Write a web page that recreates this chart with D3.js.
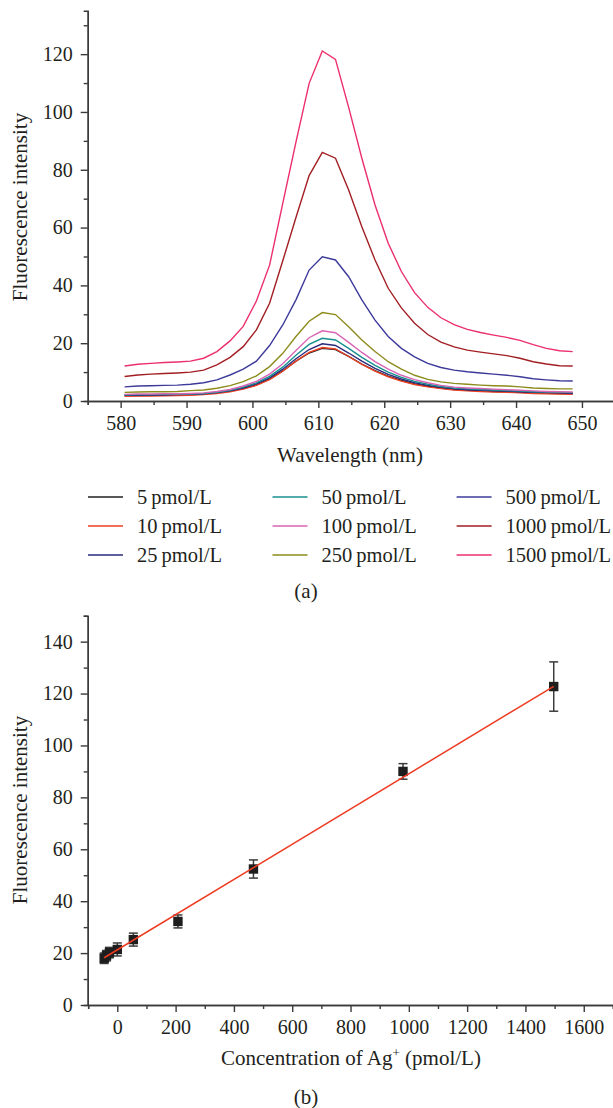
<!DOCTYPE html>
<html>
<head>
<meta charset="utf-8">
<script src="https://cdn.jsdelivr.net/npm/d3@7"></script>
<style>
  body { margin: 0; background: #fff; }
  .axis path, .axis line { stroke: #3a3a3a; stroke-width: 1.4; }
</style>
</head>
<body>
<svg width="613" height="1108"></svg>
<script>
let serif = "'Liberation Serif', 'Times New Roman', Times, serif"

// wavelengths of the spectra (nm)
let wavelengths = [580.6, 582.6, 584.6, 586.6, 588.6, 590.6, 592.6, 594.6, 596.6, 598.6,
  600.6, 602.6, 604.6, 606.6, 608.6, 610.6, 612.6, 614.6, 616.6, 618.6,
  620.6, 622.6, 624.6, 626.6, 628.6, 630.6, 632.6, 634.6, 636.6, 638.6,
  640.6, 642.6, 644.6, 646.6, 648.6]

let seriesNames = ['5', '10', '25', '50', '100', '250', '500', '1000', '1500']
let seriesColors = ['#231f20', '#ee4124', '#2b2a7c', '#17908f', '#d865b4', '#8d8b1c', '#3d3a9a', '#a21e23', '#ec2f6b']

let s5 = [1.9, 1.9, 2.0, 2.0, 2.1, 2.2, 2.4, 2.8, 3.4, 4.3, 5.6, 7.6, 10.4, 13.8, 16.6, 18.2, 17.8, 15.4, 12.8, 10.5,
  8.6, 7.1, 5.9, 5.1, 4.5, 4.0, 3.7, 3.5, 3.3, 3.2, 3.0, 2.8, 2.7, 2.6, 2.5]
let s10 = [1.6, 1.7, 1.7, 1.8, 1.9, 2.0, 2.2, 2.6, 3.2, 4.1, 5.4, 7.4, 10.3, 13.8, 16.8, 18.5, 18.0, 15.4, 12.7, 10.3,
  8.4, 6.9, 5.7, 4.9, 4.3, 3.8, 3.5, 3.3, 3.1, 3.0, 2.8, 2.6, 2.5, 2.4, 2.3]
let s25 = [2.0, 2.0, 2.1, 2.1, 2.2, 2.3, 2.5, 2.9, 3.5, 4.5, 5.9, 8.0, 11.0, 14.6, 17.8, 19.8, 19.2, 16.6, 13.8, 11.3,
  9.2, 7.6, 6.3, 5.4, 4.7, 4.2, 3.9, 3.7, 3.5, 3.4, 3.2, 3.0, 2.9, 2.8, 2.7]
let s50 = [2.1, 2.2, 2.2, 2.3, 2.3, 2.4, 2.6, 3.0, 3.7, 4.8, 6.3, 8.5, 11.7, 15.8, 19.6, 21.7, 21.1, 18.2, 15.1, 12.3,
  10.0, 8.2, 6.8, 5.8, 5.0, 4.5, 4.2, 4.0, 3.8, 3.6, 3.4, 3.2, 3.1, 3.0, 2.9]
let s100 = [2.3, 2.4, 2.4, 2.5, 2.5, 2.6, 2.8, 3.3, 4.0, 5.2, 6.8, 9.3, 12.9, 17.5, 21.9, 24.3, 23.6, 20.3, 16.8, 13.6,
  11.0, 8.9, 7.4, 6.3, 5.4, 4.8, 4.5, 4.3, 4.1, 3.9, 3.7, 3.5, 3.3, 3.2, 3.1]
let s250 = [3.0, 3.1, 3.2, 3.2, 3.3, 3.6, 3.8, 4.4, 5.3, 6.7, 8.7, 11.9, 16.5, 22.3, 27.6, 30.6, 29.9, 25.7, 21.1, 17.1,
  13.6, 11.0, 8.9, 7.5, 6.6, 6.1, 5.8, 5.5, 5.3, 5.2, 4.9, 4.5, 4.3, 4.2, 4.2]
let s500 = [4.9, 5.2, 5.3, 5.4, 5.5, 5.8, 6.3, 7.3, 9.0, 11.0, 13.8, 19.2, 26.3, 35.0, 45.3, 49.9, 48.8, 43.0, 35.0, 28.0,
  22.3, 18.2, 15.3, 13.0, 11.6, 10.7, 10.1, 9.7, 9.3, 8.9, 8.4, 7.7, 7.3, 7.0, 6.9]
let s1000 = [8.5, 9.0, 9.3, 9.5, 9.7, 10.0, 10.7, 12.5, 15.1, 18.8, 24.6, 33.8, 48.5, 63.5, 78.0, 86.0, 84.0, 73.0, 60.3, 48.8,
  39.0, 32.2, 26.9, 23.0, 20.4, 18.7, 17.6, 16.9, 16.3, 15.7, 14.8, 13.6, 12.8, 12.2, 12.1]
let s1500 = [12.1, 12.7, 13.0, 13.3, 13.5, 13.8, 14.8, 17.1, 20.8, 25.8, 34.6, 47.0, 68.4, 89.6, 109.9, 121.1, 118.2, 101.6, 84.0, 67.8,
  54.6, 44.8, 37.5, 32.4, 28.8, 26.4, 24.8, 23.7, 22.8, 22.0, 21.0, 19.5, 18.2, 17.4, 17.1]
let spectra = [s5, s10, s25, s50, s100, s250, s500, s1000, s1500]

// calibration points (b)
let concentration = [-45, -37, -27, 0, 55, 208, 467, 980, 1497]
let intensity = [18.0, 19.0, 20.2, 21.4, 25.2, 32.2, 52.4, 90.0, 122.7]
let errors = [2.0, 2.0, 2.0, 2.5, 2.5, 2.5, 3.5, 3.0, 9.5]
let fitX = [-45, 1497]
let fitY = [18.2, 122.8]

let svg = d3.select('svg')

function drawAxes(g, x, y, xMajor, xMinor, yMajor, yMinor, bottom, left) {
  g.append('g').attr('class', 'axis').attr('transform', `translate(0,${bottom})`)
    .call(d3.axisBottom(x).tickValues(xMinor).tickSize(4).tickFormat(''))
  g.append('g').attr('class', 'axis').attr('transform', `translate(0,${bottom})`)
    .call(d3.axisBottom(x).tickValues(xMajor).tickSize(7).tickPadding(8).tickSizeOuter(0).tickFormat(d3.format('d')))
  g.append('g').attr('class', 'axis').attr('transform', `translate(${left},0)`)
    .call(d3.axisLeft(y).tickValues(yMinor).tickSize(4).tickFormat(''))
  g.append('g').attr('class', 'axis').attr('transform', `translate(${left},0)`)
    .call(d3.axisLeft(y).tickValues(yMajor).tickSize(7).tickPadding(8).tickSizeOuter(0).tickFormat(d3.format('d')))
  g.selectAll('.axis').attr('font-family', serif).attr('font-size', 20)
  g.selectAll('.axis text').attr('fill', '#231f20')
}

function label(text, x, y, rotate) {
  let t = svg.append('text')
    .attr('x', x).attr('y', y)
    .attr('text-anchor', 'middle')
    .attr('fill', '#231f20')
    .attr('font-family', serif)
    .attr('font-size', 21)
  if (rotate) t.attr('transform', `rotate(-90,${x},${y})`)
  return t.text(text)
}

// ---------- (a) spectra ----------
let xa = d3.scaleLinear().domain([575, 655]).range([87.7, 614.9])
let ya = d3.scaleLinear().domain([0, 135]).range([401, 10.8])

let ga = svg.append('g')
let line = d3.line()
  .x(function (d, i) { return xa(wavelengths[i]) })
  .y(function (d) { return ya(d) })

ga.selectAll('path.spec')
  .data(spectra)
  .join('path')
  .attr('class', 'spec')
  .attr('d', line)
  .attr('fill', 'none')
  .attr('stroke', function (d, i) { return seriesColors[i] })
  .attr('stroke-width', 1.4)

drawAxes(ga, xa, ya, d3.range(580, 651, 10), d3.range(575, 656, 10),
  d3.range(0, 121, 20), d3.range(10, 131, 20), 401, 87.7)

label('Fluorescence intensity', 27, 207, true)
label('Wavelength (nm)', 350, 462)

// legend
let legX = [88, 272.5, 456.6]
let legY = [497, 526, 555]
let leg = svg.append('g').selectAll('g')
  .data(seriesNames)
  .join('g')
  .attr('transform', function (d, i) { return `translate(${legX[Math.floor(i / 3)]},${legY[i % 3]})` })
leg.append('line')
  .attr('x1', 0).attr('x2', 35)
  .attr('stroke', function (d, i) { return seriesColors[i] })
  .attr('stroke-width', 1.6)
leg.append('text')
  .attr('x', 49).attr('y', 6.5)
  .attr('fill', '#231f20')
  .attr('font-family', serif)
  .attr('font-size', 20.5)
  .text(function (d) { return d + '\u2009pmol/L' })

label('(a)', 306, 598)

// ---------- (b) calibration ----------
let xb = d3.scaleLinear().domain([-100, 1700]).range([88.15, 612.9])
let yb = d3.scaleLinear().domain([0, 150]).range([1005, 615.7])
let gb = svg.append('g')

drawAxes(gb, xb, yb, d3.range(0, 1601, 200), d3.range(-100, 1701, 200),
  d3.range(0, 141, 20), d3.range(10, 151, 20), 1005, 87.7)

let pts = concentration.map(function (c, i) { return { x: c, y: intensity[i], e: errors[i] } })

let bars = gb.selectAll('g.err').data(pts).join('g').attr('class', 'err')
  .attr('stroke', '#3b3b3b').attr('stroke-width', 1.5)
bars.append('line')
  .attr('x1', function (d) { return xb(d.x) }).attr('x2', function (d) { return xb(d.x) })
  .attr('y1', function (d) { return yb(d.y - d.e) }).attr('y2', function (d) { return yb(d.y + d.e) })
bars.append('line')
  .attr('x1', function (d) { return xb(d.x) - 4.5 }).attr('x2', function (d) { return xb(d.x) + 4.5 })
  .attr('y1', function (d) { return yb(d.y + d.e) }).attr('y2', function (d) { return yb(d.y + d.e) })
bars.append('line')
  .attr('x1', function (d) { return xb(d.x) - 4.5 }).attr('x2', function (d) { return xb(d.x) + 4.5 })
  .attr('y1', function (d) { return yb(d.y - d.e) }).attr('y2', function (d) { return yb(d.y - d.e) })

gb.selectAll('rect.pt').data(pts).join('rect').attr('class', 'pt')
  .attr('x', function (d) { return xb(d.x) - 4.7 })
  .attr('y', function (d) { return yb(d.y) - 4.7 })
  .attr('width', 9.4).attr('height', 9.4)
  .attr('fill', '#1e1e1e')

gb.append('line')
  .attr('x1', xb(fitX[0])).attr('y1', yb(fitY[0]))
  .attr('x2', xb(fitX[1])).attr('y2', yb(fitY[1]))
  .attr('stroke', '#ee3b22').attr('stroke-width', 1.5)

label('Fluorescence intensity', 27, 810, true)
let xt = label('Concentration of Ag', 351, 1065)
xt.append('tspan').attr('dy', -8).attr('font-size', 13).text('+')
xt.append('tspan').attr('dy', 8).text(' (pmol/L)')

label('(b)', 306, 1104)
</script>
</body>
</html>
